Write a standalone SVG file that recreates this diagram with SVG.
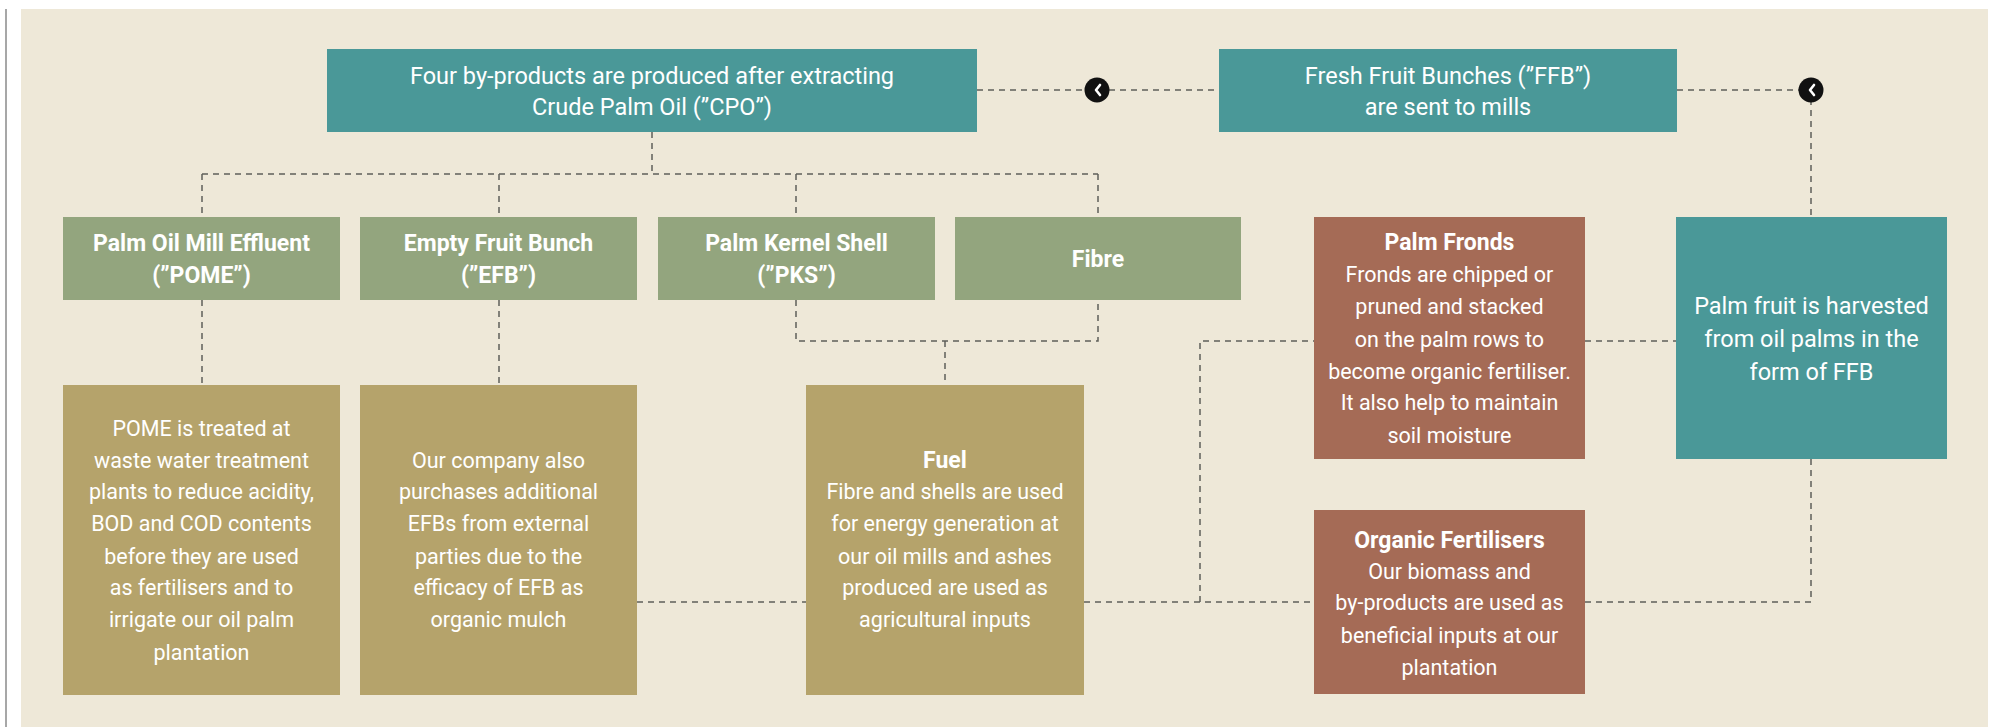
<svg xmlns="http://www.w3.org/2000/svg" width="1996" height="727" viewBox="0 0 1996 727">
  <style>
    .bg { fill: #EEE8D8; }
    .teal { fill: #4A9898; }
    .green { fill: #93A57E; }
    .tan { fill: #B5A36B; }
    .rust { fill: #A56B56; }
    .link { fill: none; stroke: #5F5F5A; stroke-width: 1.5; stroke-dasharray: 6 5; }
    text { font-family: Roboto, "Liberation Sans", sans-serif; font-size: 21.5px; fill: #FFFFFF; text-anchor: middle; font-weight: 400; }
    .lg { font-size: 23.5px; }
    .b { font-weight: 700; font-size: 23px; }
    .dot { fill: #111111; }
    .chev { fill: none; stroke: #FFFFFF; stroke-width: 2.6; stroke-linecap: round; stroke-linejoin: round; }
  </style>

  <rect class="bg" x="21" y="9" width="1967" height="718"/>
  <line x1="6" y1="9" x2="6" y2="727" stroke="#8A8A8A" stroke-width="1.5"/>

  <g id="connectors">
    <path class="link" d="M652 132 V174 M202 174 H1098 M202 174 V217 M499 174 V217 M796 174 V217 M1098 174 V217"/>
    <path class="link" d="M202 300 V385 M499 300 V385"/>
    <path class="link" d="M796 300 V341 H1098 V300 M945 341 V385"/>
    <path class="link" d="M637 602 H806 M1084 602 H1314 M1585 602 H1811 V459"/>
    <path class="link" d="M1200 602 V341 H1314 M1585 341 H1676"/>
    <path class="link" d="M977 90 H1219 M1677 90 H1811 V217"/>
    <g id="arrow-cpo">
      <circle class="dot" cx="1097" cy="90" r="12.5"/>
      <path class="chev" d="M1100 85 L1096 90 L1100 95"/>
    </g>
    <g id="arrow-ffb">
      <circle class="dot" cx="1811" cy="90" r="12.5"/>
      <path class="chev" d="M1814 85 L1810 90 L1814 95"/>
    </g>
  </g>

  <g id="cpo">
    <rect class="teal" x="327" y="49" width="650" height="83"/>
    <text class="lg" x="652" y="84">Four by-products are produced after extracting</text>
    <text class="lg" x="652" y="115">Crude Palm Oil (”CPO”)</text>
  </g>

  <g id="ffb">
    <rect class="teal" x="1219" y="49" width="458" height="83"/>
    <text class="lg" x="1448" y="84">Fresh Fruit Bunches (”FFB”)</text>
    <text class="lg" x="1448" y="115">are sent to mills</text>
  </g>

  <g id="pome">
    <rect class="green" x="63" y="217" width="277" height="83"/>
    <text class="b" x="201.5" y="251">Palm Oil Mill Effluent</text>
    <text class="b" x="201.5" y="283">(”POME”)</text>
  </g>

  <g id="efb">
    <rect class="green" x="360" y="217" width="277" height="83"/>
    <text class="b" x="498.5" y="251">Empty Fruit Bunch</text>
    <text class="b" x="498.5" y="283">(”EFB”)</text>
  </g>

  <g id="pks">
    <rect class="green" x="658" y="217" width="277" height="83"/>
    <text class="b" x="796.5" y="251">Palm Kernel Shell</text>
    <text class="b" x="796.5" y="283">(”PKS”)</text>
  </g>

  <g id="fibre">
    <rect class="green" x="955" y="217" width="286" height="83"/>
    <text class="b" x="1098" y="267">Fibre</text>
  </g>

  <g id="pome-use">
    <rect class="tan" x="63" y="385" width="277" height="310"/>
    <text x="201.5" y="436">POME is treated at</text>
    <text x="201.5" y="468">waste water treatment</text>
    <text x="201.5" y="499">plants to reduce acidity,</text>
    <text x="201.5" y="531">BOD and COD contents</text>
    <text x="201.5" y="564">before they are used</text>
    <text x="201.5" y="595">as fertilisers and to</text>
    <text x="201.5" y="627">irrigate our oil palm</text>
    <text x="201.5" y="660">plantation</text>
  </g>

  <g id="efb-use">
    <rect class="tan" x="360" y="385" width="277" height="310"/>
    <text x="498.5" y="468">Our company also</text>
    <text x="498.5" y="499">purchases additional</text>
    <text x="498.5" y="531">EFBs from external</text>
    <text x="498.5" y="564">parties due to the</text>
    <text x="498.5" y="595">efficacy of EFB as</text>
    <text x="498.5" y="627">organic mulch</text>
  </g>

  <g id="fuel">
    <rect class="tan" x="806" y="385" width="278" height="310"/>
    <text class="b" x="945" y="468">Fuel</text>
    <text x="945" y="499">Fibre and shells are used</text>
    <text x="945" y="531">for energy generation at</text>
    <text x="945" y="564">our oil mills and ashes</text>
    <text x="945" y="595">produced are used as</text>
    <text x="945" y="627">agricultural inputs</text>
  </g>

  <g id="fronds">
    <rect class="rust" x="1314" y="217" width="271" height="242"/>
    <text class="b" x="1449.5" y="250">Palm Fronds</text>
    <text x="1449.5" y="282">Fronds are chipped or</text>
    <text x="1449.5" y="314">pruned and stacked</text>
    <text x="1449.5" y="347">on the palm rows to</text>
    <text x="1449.5" y="379">become organic fertiliser.</text>
    <text x="1449.5" y="410">It also help to maintain</text>
    <text x="1449.5" y="443">soil moisture</text>
  </g>

  <g id="harvest">
    <rect class="teal" x="1676" y="217" width="271" height="242"/>
    <text class="lg" x="1811.5" y="314">Palm fruit is harvested</text>
    <text class="lg" x="1811.5" y="347">from oil palms in the</text>
    <text class="lg" x="1811.5" y="380">form of FFB</text>
  </g>

  <g id="organic-fertilisers">
    <rect class="rust" x="1314" y="510" width="271" height="184"/>
    <text class="b" x="1449.5" y="548">Organic Fertilisers</text>
    <text x="1449.5" y="579">Our biomass and</text>
    <text x="1449.5" y="610">by-products are used as</text>
    <text x="1449.5" y="643">beneficial inputs at our</text>
    <text x="1449.5" y="675">plantation</text>
  </g>
</svg>
